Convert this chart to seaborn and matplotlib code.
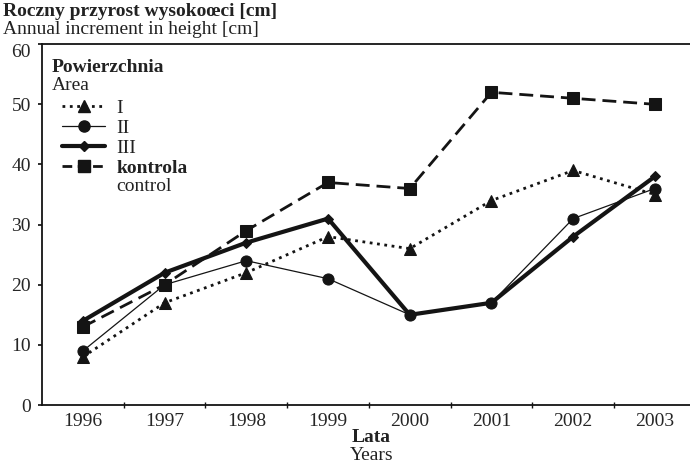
import numpy as np
import pandas as pd
import matplotlib
matplotlib.use('Agg')
import matplotlib.pyplot as plt
import seaborn as sns
from matplotlib.lines import Line2D

years = ['1996', '1997', '1998', '1999', '2000', '2001', '2002', '2003']
area_I = [8, 17, 22, 28, 26, 34, 39, 35]
area_II = [9, 20, 24, 21, 15, 17, 31, 36]
area_III = [14, 22, 27, 31, 15, 17, 28, 38]
kontrola = [13, 20, 29, 37, 36, 52, 51, 50]
y_ticks = [0, 10, 20, 30, 40, 50, 60]

sns.set_theme(style='ticks')
plt.rcParams['font.family'] = ['Liberation Serif', 'DejaVu Serif']
plt.rcParams['text.color'] = '#222222'

ink = '#141414'
fs = 14
fig = plt.figure(figsize=(6.9, 4.65), dpi=100)
ax = fig.add_axes([0.061, 0.129, 0.939, 0.776])

x = np.arange(len(years))
series = [
    (area_I, '^', ':', 2.0, 8),
    (area_II, 'o', '-', 0.9, 8),
    (area_III, 'D', '-', 3.0, 5),
    (kontrola, 's', '--', 2.0, 8),
]
handles = []
for vals, mk, ls, lw, ms in series:
    df = pd.DataFrame({'x': x, 'y': vals})
    sns.lineplot(data=df, x='x', y='y', ax=ax, color=ink, linestyle=ls,
                 linewidth=lw, marker=mk, markersize=ms, markeredgecolor=ink,
                 markerfacecolor=ink)
    handles.append(Line2D([0], [0], color=ink, linestyle=ls, linewidth=lw,
                          marker=mk, markersize=ms, markerfacecolor=ink,
                          markeredgecolor=ink))
for ln in ax.get_lines():
    if ln.get_linestyle() == '--':
        ln.set_dashes((5, 2.5))
handles[3].set_dashes((3.5, 2))

ax.set_xlim(-0.5, 7.43)
ax.set_ylim(0, 60)
ax.set_xticks(x)
ax.set_xticklabels(years, fontsize=fs)
ax.set_xticks(x[:-1] + 0.5, minor=True)
ax.tick_params(axis='x', which='major', length=0, pad=6)
ax.tick_params(axis='x', which='minor', length=4, direction='inout', color=ink)
ax.set_yticks(y_ticks)
ax.set_yticklabels([str(v) for v in y_ticks], fontsize=fs)
ax.tick_params(axis='y', length=3, color=ink, pad=5)
ax.get_yticklabels()[-1].set_va('top')
ax.set_xlabel('')
ax.set_ylabel('')
for s in ['left', 'bottom', 'top']:
    ax.spines[s].set_color(ink)
    ax.spines[s].set_linewidth(1.3)
ax.spines['right'].set_visible(False)

leg = ax.legend(handles, ['I', 'II', 'III', 'kontrola'], loc='upper left',
                bbox_to_anchor=(0.01, 0.885), frameon=False, fontsize=fs,
                handlelength=2.2, handletextpad=0.6, labelspacing=0.12,
                borderpad=0.2)
leg.get_texts()[3].set_fontweight('bold')

fig.text(0.075, 1 - 67 / 465, 'Powierzchnia', fontsize=fs, fontweight='bold', va='center')
fig.text(0.075, 1 - 85 / 465, 'Area', fontsize=fs, va='center')
fig.text(0.168, 1 - 186 / 465, 'control', fontsize=fs, va='center')

fig.text(0.004, 1 - 12 / 465, 'Roczny przyrost wysokoœci [cm]', fontsize=fs,
         fontweight='bold', va='center')
fig.text(0.004, 1 - 30 / 465, 'Annual increment in height [cm]', fontsize=fs, va='center')
fig.text(0.538, 1 - 437 / 465, 'Lata', fontsize=fs, fontweight='bold', ha='center', va='center')
fig.text(0.538, 1 - 455 / 465, 'Years', fontsize=fs, ha='center', va='center')

fig.savefig('out.png', dpi=100)
